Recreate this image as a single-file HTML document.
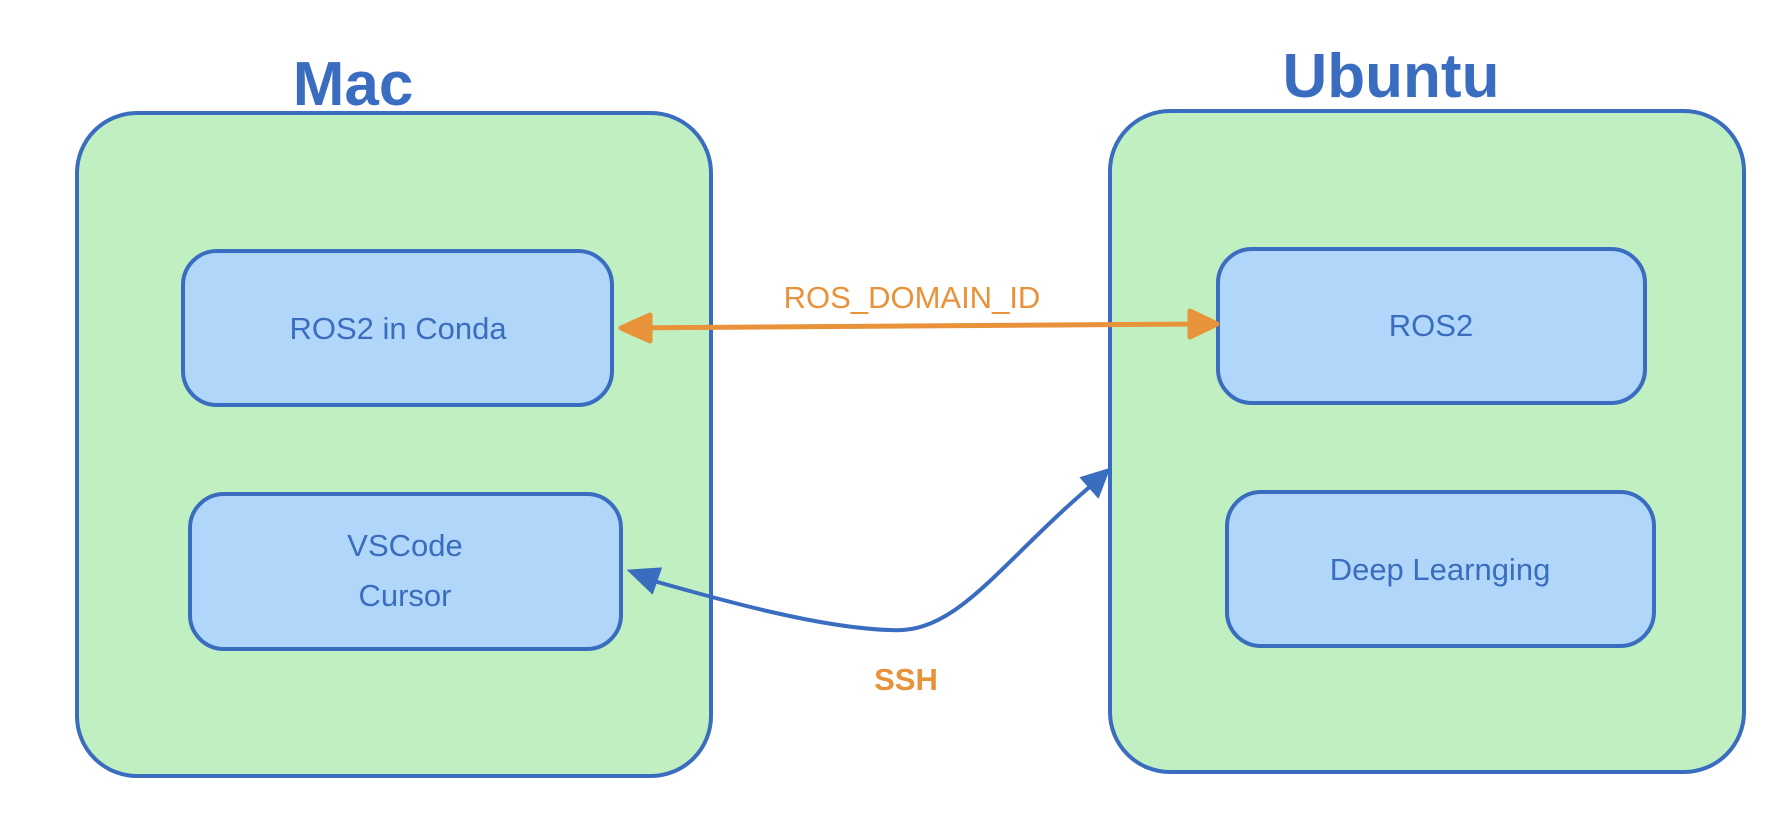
<!DOCTYPE html>
<html><head><style>body{margin:0;background:#fff}</style></head><body>
<svg width="1776" height="816" viewBox="0 0 1776 816" xmlns="http://www.w3.org/2000/svg" font-family="'Liberation Sans', sans-serif">
<g stroke="#3a6dbf" stroke-width="4">
<rect x="77" y="113" width="634" height="663" rx="60" fill="#c0f0c2"/>
<rect x="1110" y="111" width="634" height="661" rx="60" fill="#c0f0c2"/>
<rect x="183" y="251" width="429" height="154" rx="34" fill="#b0d7fa"/>
<rect x="190" y="494" width="431" height="155" rx="34" fill="#b0d7fa"/>
<rect x="1218" y="249" width="427" height="154" rx="34" fill="#b0d7fa"/>
<rect x="1227" y="492" width="427" height="154" rx="34" fill="#b0d7fa"/>
</g>
<g fill="#3a6dbf" text-anchor="middle">
<text x="353" y="105" font-size="62" font-weight="bold">Mac</text>
<text x="1391" y="97" font-size="62" font-weight="bold">Ubuntu</text>
<text x="398" y="339" font-size="31">ROS2 in Conda</text>
<text x="405" y="556" font-size="31">VSCode</text>
<text x="405" y="606" font-size="31">Cursor</text>
<text x="1431" y="336" font-size="31">ROS2</text>
<text x="1440" y="580" font-size="31">Deep Learnging</text>
</g>
<g stroke="#e8923a" stroke-width="5" fill="#e8923a" stroke-linejoin="round">
<line x1="625" y1="328" x2="1205" y2="324"/>
<path d="M650 315 L621 328 L650 341 Z"/>
<path d="M1190 311 L1217 324 L1190 337 Z"/>
</g>
<g fill="#e8923a" text-anchor="middle" font-size="31">
<text x="912" y="308">ROS_DOMAIN_ID</text>
<text x="906" y="690" font-weight="bold">SSH</text>
</g>
<path d="M1105 474 C1000 560 960 635 890 630 C820 628 720 600 640 577" stroke="#3a6dbf" stroke-width="4" fill="none"/>
<path d="M1108 470 L1082 478 L1098 496 Z" fill="#3a6dbf" stroke="#3a6dbf" stroke-width="3"/>
<path d="M630 571 L660 569 L652 592 Z" fill="#3a6dbf" stroke="#3a6dbf" stroke-width="3"/>
</svg>
</body></html>
